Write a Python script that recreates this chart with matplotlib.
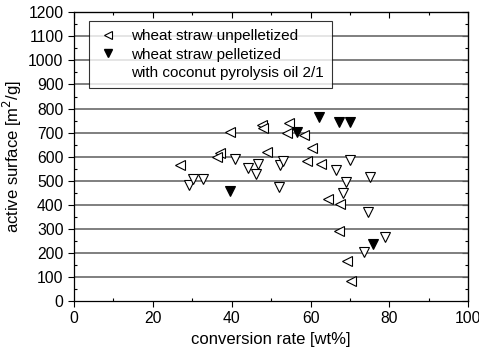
import matplotlib
matplotlib.use("Agg")
import matplotlib.pyplot as plt
from matplotlib.lines import Line2D
from matplotlib.ticker import MultipleLocator

plt.rcParams['font.family'] = ['Liberation Sans', 'DejaVu Sans']

# wheat straw, unpelletized (open, left-pointing)
unpel_x = [27.0, 39.6, 36.9, 36.2, 47.6, 48.0, 48.9, 54.6, 53.9, 58.3,
           60.3, 59.0, 62.6, 64.5, 67.5, 67.3, 69.2, 70.2]
unpel_y = [564, 701, 614, 597, 731, 718, 618, 740, 697, 690,
           637, 583, 570, 426, 403, 291, 165, 83]

# wheat straw pelletized with coconut pyrolysis oil 2/1 (filled, down)
pel_x = [39.6, 56.5, 62.2, 67.2, 70.0, 75.8]
pel_y = [458, 703, 766, 742, 742, 236]

# further series (open, down)
open_x = [29.2, 30.3, 32.8, 40.8, 44.2, 46.6, 46.1, 52.1, 52.3, 53.1,
          66.4, 70.0, 69.0, 68.1, 75.1, 74.6, 78.9, 73.6]
open_y = [482, 507, 507, 589, 553, 571, 526, 472, 565, 583,
          545, 586, 493, 450, 517, 371, 267, 205]

fig = plt.figure(figsize=(4.79, 3.55), dpi=100)
ax = fig.add_axes([0.1545, 0.152, 0.8232, 0.8134])

for y in range(100, 1200, 100):
    ax.axhline(y, color='#6a6a6a', linewidth=1.2, zorder=1)

ms = 7
ax.plot(open_x, open_y, linestyle='none', marker='v', markersize=ms,
        markerfacecolor='white', markeredgecolor='black', markeredgewidth=0.8, zorder=3)
ax.plot(unpel_x, unpel_y, linestyle='none', marker='<', markersize=ms,
        markerfacecolor='white', markeredgecolor='black', markeredgewidth=0.8, zorder=3)
ax.plot(pel_x, pel_y, linestyle='none', marker='v', markersize=ms,
        markerfacecolor='black', markeredgecolor='black', markeredgewidth=0.8, zorder=4)

ax.set_xlim(0, 100)
ax.set_ylim(0, 1200)
ax.xaxis.set_major_locator(MultipleLocator(20))
ax.xaxis.set_minor_locator(MultipleLocator(10))
ax.yaxis.set_major_locator(MultipleLocator(100))
ax.yaxis.set_minor_locator(MultipleLocator(50))
ax.tick_params(which='both', top=False, right=False, labelsize=11.3, width=0.8)
ax.tick_params(which='major', direction='out', length=4)
ax.tick_params(which='minor', direction='in', length=2.5)

# mirrored inward ticks on top and right
ax2 = ax.secondary_xaxis('top')
ax2.xaxis.set_major_locator(MultipleLocator(20))
ax2.xaxis.set_minor_locator(MultipleLocator(10))
ax2.tick_params(which='both', direction='in', labeltop=False, width=0.8)
ax2.tick_params(which='major', length=4)
ax2.tick_params(which='minor', length=2.5)
ay2 = ax.secondary_yaxis('right')
ay2.yaxis.set_major_locator(MultipleLocator(100))
ay2.yaxis.set_minor_locator(MultipleLocator(50))
ay2.tick_params(which='both', direction='in', labelright=False, width=0.8)
ay2.tick_params(which='major', length=4)
ay2.tick_params(which='minor', length=2.5)

for s in ax.spines.values():
    s.set_linewidth(0.9)

ax.set_xlabel('conversion rate [wt%]', fontsize=12, labelpad=4)
ax.set_ylabel('active surface [m$^2$/g]', fontsize=12, labelpad=3)

handles = [
    Line2D([], [], linestyle='none', marker='<', markersize=6,
           markerfacecolor='white', markeredgecolor='black', markeredgewidth=0.8),
    Line2D([], [], linestyle='none', marker='v', markersize=6,
           markerfacecolor='black', markeredgecolor='black'),
    Line2D([], [], linestyle='none'),
]
labels = ['wheat straw unpelletized', 'wheat straw pelletized',
          'with coconut pyrolysis oil 2/1']
leg = ax.legend(handles, labels, loc='upper left', bbox_to_anchor=(0.038, 0.97),
                borderaxespad=0, fontsize=11, frameon=True, fancybox=False,
                handlelength=1.4, handletextpad=0.8, labelspacing=0.28,
                borderpad=0.55)
leg.get_frame().set_edgecolor('black')
leg.get_frame().set_linewidth(0.8)

fig.savefig('out.png', dpi=100)
